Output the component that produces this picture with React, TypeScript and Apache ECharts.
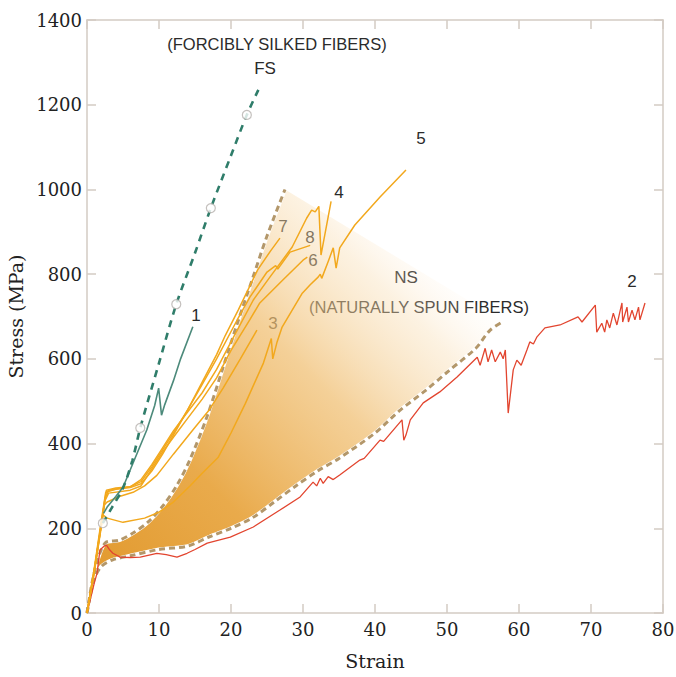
import React, { useEffect, useRef } from "react";
import * as echarts from "echarts";

// ---- data (strain %, stress MPa) ----
const xTicks = { min: 0, max: 80, interval: 10 };
const yTicks = { min: 0, max: 1400, interval: 200 };

const fsCurve = [[2.2, 212], [3.5, 250], [5, 295], [6.3, 360], [7.4, 437], [10, 590], [12.4, 729], [15, 850], [17.2, 956], [20, 1080], [22.2, 1176], [23.8, 1235]];
const fsMarkers = [[2.2, 212], [7.4, 437], [12.4, 729], [17.2, 956], [22.2, 1176]];

const curve1 = [[2.3, 235], [2.8, 250], [4, 275], [5, 297], [6.4, 354], [8.3, 432], [9.4, 490], [9.95, 531], [10.35, 467], [10.8, 492], [12, 548], [13, 600], [14.7, 676]];

const curve7 = [[0, 0], [1, 105], [2, 220], [2.6, 285], [4, 292], [6, 296], [7.5, 305], [9, 335], [10.5, 375], [12, 420], [14, 480], [16, 545], [18, 610], [19.2, 655], [21, 715], [23.7, 810], [25.5, 855], [26.8, 885]];
const curve8 = [[0, 0], [1, 100], [2, 215], [2.7, 290], [4, 295], [6, 298], [7.5, 310], [9, 345], [10.5, 385], [12, 425], [14, 480], [16, 540], [18, 600], [20.8, 690], [22.6, 745], [25, 805], [26.2, 820], [26.5, 812], [28.2, 852], [31, 868]];
const curve4 = [[0, 0], [1, 100], [2, 210], [2.5, 270], [3, 290], [6, 298], [7.5, 315], [9, 350], [10.5, 390], [12, 430], [14, 475], [16, 520], [18, 575], [20, 640], [23.1, 739], [25.4, 793], [28.5, 864], [30.5, 932], [31.2, 951], [31.7, 947], [32.2, 960], [32.5, 845], [33.9, 972]];
const curve6 = [[0, 0], [1, 95], [2, 205], [2.5, 265], [3, 283], [6, 290], [7.5, 300], [9, 340], [10.5, 380], [12, 415], [14, 460], [16, 505], [18, 555], [20, 620], [22.6, 692], [24, 732], [27.2, 786], [30, 833], [30.6, 840]];
const curve3 = [[0, 0], [1, 95], [2, 210], [2.4, 255], [2.8, 262], [4.5, 275], [6.4, 285], [8, 300], [9.7, 325], [12, 375], [14.7, 432], [17, 480], [18.9, 531], [21.3, 600], [23.6, 668]];
const curve5 = [[0, 0], [1, 100], [2.2, 232], [2.8, 224], [5, 214], [8, 224], [10, 238], [12, 262], [14.3, 300], [16, 330], [18.2, 367], [20, 425], [22, 495], [24.5, 590], [25.6, 648], [25.8, 600], [26.4, 640], [27.1, 675], [28.5, 715], [29.9, 755], [31, 775], [32.1, 793], [32.4, 800], [32.6, 790], [33.5, 830], [34.2, 862], [34.6, 814], [35.1, 862], [37.2, 916], [40.7, 982], [44.3, 1046]];

const curve2 = [[0, 0], [1, 70], [1.4, 94], [1.8, 149], [2.4, 158], [2.7, 160], [3.1, 150], [3.6, 141], [4.6, 132], [6, 131], [7.4, 132], [9.7, 141], [11, 138], [12.5, 132], [13.9, 141], [15, 150], [16.7, 165], [19.9, 179], [23.1, 203], [26.8, 243], [29.6, 274], [31.4, 309], [31.9, 300], [32.4, 318], [32.8, 306], [33.5, 322], [34.2, 315], [35.1, 326], [37.9, 361], [38.5, 365], [40.7, 408], [41.2, 405], [43.75, 456], [44.0, 408], [44.3, 420], [44.9, 456], [46.7, 496], [49, 522], [51.4, 557], [54.2, 604], [54.6, 585], [55.3, 625], [55.7, 593], [56.2, 621], [56.7, 593], [57.4, 616], [57.8, 600], [58.1, 621], [58.5, 472], [59.2, 574], [59.7, 597], [60.3, 585], [61.1, 621], [61.5, 640], [62, 635], [62.5, 652], [63.6, 673], [65.7, 680], [68.2, 699], [68.75, 687], [70.6, 727], [70.8, 663], [71.5, 684], [71.9, 663], [72.2, 692], [72.6, 673], [73.1, 708], [73.6, 680], [74.3, 732], [74.4, 687], [75, 722], [75.2, 687], [75.7, 715], [76.1, 692], [76.6, 722], [76.8, 692], [77.5, 732]];

const nsUpper = [[0, 0], [1, 95], [2.5, 165], [4.5, 172], [6.5, 190], [8.5, 215], [10.5, 252], [12.5, 302], [14.3, 362], [16.7, 465], [18.9, 580], [21, 690], [23, 790], [25, 890], [27.5, 1000]];
const nsLower = [[0, 0], [1, 80], [2, 110], [3.5, 125], [6, 135], [10, 150], [14, 158], [17, 180], [20, 200], [23, 225], [26, 262], [29, 300], [32, 335], [35, 365], [40, 425], [43.5, 479], [47, 525], [50.4, 574], [54, 625], [56, 668], [57.8, 688]];

const ORANGE = "#f2a81d";
const AXIS = "#d3cbc3";
const SERIF = "DejaVu Serif";
const SANS = "Liberation Sans";

const orangeCurves = [curve7, curve8, curve4, curve6, curve3, curve5];

export default function App() {
  const ref = useRef<HTMLDivElement>(null);
  useEffect(() => {
    if (!ref.current) return;
    const chart = echarts.init(ref.current, null, { renderer: "svg" });
    const axisCommon = {
      type: "value" as const,
      axisLine: { show: true, onZero: false, lineStyle: { color: AXIS, width: 1.5 } },
      axisTick: { show: true, inside: true, length: 9, lineStyle: { color: AXIS, width: 1.5 } },
      splitLine: { show: false },
    };
    const line = (data: number[][], color: string, width: number, z: number, extra: any = {}) => {
      const { smooth, ...ls } = extra;
      return {
        type: "line",
        data,
        showSymbol: false,
        symbol: "none",
        z,
        smooth: smooth ?? false,
        lineStyle: { color, width, ...ls },
        silent: true,
      };
    };
    const text = (t: string, x: number, y: number, size: number) => ({
      type: "text",
      x,
      y,
      silent: true,
      style: { text: t, fill: "#2b2b2b", font: `${size}px ${SANS}`, textAlign: "center", textVerticalAlign: "middle" },
    });
    const plain = (v: number) => String(v);

    const option: any = {
      animation: false,
      backgroundColor: "#ffffff",
      grid: { left: 87, right: 13, top: 20, bottom: 64, containLabel: false, outerBoundsMode: "none" },
      xAxis: [
        {
          ...axisCommon, position: "bottom", ...xTicks,
          axisLabel: { fontFamily: SERIF, fontSize: 18, color: "#222", margin: 7, formatter: plain },
          name: "Strain", nameLocation: "middle", nameGap: 38,
          nameTextStyle: { fontFamily: SERIF, fontSize: 19, color: "#222" },
        },
        { ...axisCommon, position: "top", ...xTicks, axisLabel: { show: false } },
      ],
      yAxis: [
        {
          ...axisCommon, position: "left", ...yTicks,
          axisLabel: { fontFamily: SERIF, fontSize: 18, color: "#222", margin: 5, formatter: plain },
          name: "Stress (MPa)", nameLocation: "middle", nameGap: 52,
          nameTextStyle: { fontFamily: SERIF, fontSize: 19, color: "#222" },
        },
        { ...axisCommon, position: "right", ...yTicks, axisLabel: { show: false } },
      ],
      series: [
        {
          type: "custom",
          coordinateSystem: "cartesian2d",
          data: [[0, 0]],
          silent: true,
          z: 1,
          renderItem: (_params: any, api: any) => {
            const pts = [
              ...nsUpper.map((p) => api.coord(p)),
              ...nsLower.slice().reverse().map((p) => api.coord(p)),
            ];
            return {
              type: "polygon",
              shape: { points: pts, smooth: 0 },
              style: {
                fill: new echarts.graphic.LinearGradient(0, 1, 1, 0, [
                  { offset: 0, color: "rgba(224,150,40,1)" },
                  { offset: 0.3, color: "rgba(232,166,66,0.95)" },
                  { offset: 0.55, color: "rgba(240,190,112,0.72)" },
                  { offset: 0.74, color: "rgba(248,220,176,0.38)" },
                  { offset: 0.85, color: "rgba(255,240,222,0)" },
                ]),
              },
            };
          },
        },
        line(nsUpper, "#ffffff", 4, 2, { smooth: 0.3 }),
        line(nsLower, "#ffffff", 4, 2, { smooth: 0.3 }),
        line(nsUpper, "#b3976a", 3, 3, { type: [6, 4], smooth: 0.3 }),
        line(nsLower, "#b3976a", 3, 3, { type: [6, 4], smooth: 0.3 }),
        line(curve2, "#e2452f", 1.3, 4),
        ...orangeCurves.map((c) => line(c, ORANGE, 1.5, 5)),
        line(curve1, "#4c8a7b", 1.6, 6),
        line(fsCurve, "#2f7d6a", 2.6, 6, { type: [7, 6], smooth: 0.3 }),
        {
          type: "scatter",
          data: fsMarkers,
          symbol: "circle",
          symbolSize: 9,
          z: 7,
          silent: true,
          itemStyle: { color: "#ffffff", borderColor: "#b5b0ad", borderWidth: 1.2 },
        },
      ],
      graphic: [
        text("(FORCIBLY SILKED FIBERS)", 277, 44, 16.5),
        text("FS", 265, 68, 17),
        text("1", 196, 315, 17),
        text("7", 283, 226, 17),
        text("8", 310, 237, 17),
        text("6", 313, 260, 17),
        text("3", 273, 323, 17),
        text("4", 339, 192, 17),
        text("5", 421, 138, 17),
        text("NS", 406, 277, 17),
        text("(NATURALLY SPUN FIBERS)", 419, 307, 16.5),
        text("2", 632, 281, 17),
      ],
    };
    chart.setOption(option);
    return () => chart.dispose();
  }, []);
  return (
    <div
      ref={ref}
      style={{ position: "absolute", left: 0, top: 0, width: 676, height: 677, background: "#fff" }}
    />
  );
}
